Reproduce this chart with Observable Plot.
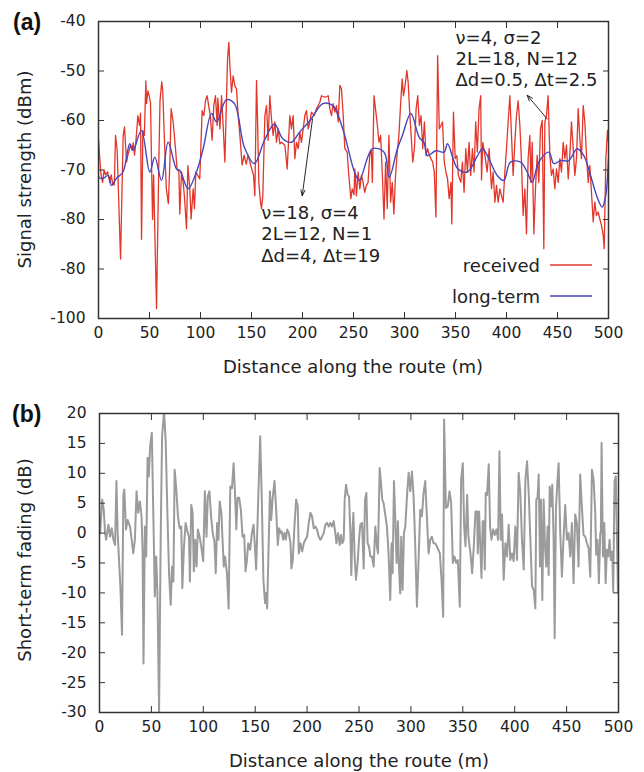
<!DOCTYPE html>
<html><head><meta charset="utf-8">
<script src="https://cdn.jsdelivr.net/npm/d3@7"></script>
<script src="https://cdn.jsdelivr.net/npm/@observablehq/plot@0.6"></script>
<style>
body{margin:0;background:#fff;font-family:"DejaVu Sans",sans-serif;}
#root{width:644px;height:772px;}
svg{display:block}
</style></head><body><div id="root"></div>
<script>
// ---------- data ----------
const receivedX = [0,1,2.5,4,5.5,7,9,11,12.5,14,15.5,16.7,18.3,21.6,24.2,25.5,27.5,28.8,31.4,33,34,35.3,36.6,38.6,40.2,41.2,42.2,43.5,45,46.4,47.1,48.4,49.7,51,52.3,53,54,55.5,56.9,59,60.3,62,63,64.7,66.5,68.5,70,71.2,73.2,75.5,77,78.8,79.7,81.4,83,84.3,86.3,87.6,89.5,90.8,92.8,94.1,95.4,97.4,99.3,101.6,103.3,104.9,106.5,108,109.6,111.4,113,114.7,116.3,117,119,120.6,122.2,123.9,126.5,127.8,128.8,130.4,132,133.7,135.3,136.9,138.6,140.8,142.8,144.8,146.7,149.3,152,153.3,154.9,155.9,157.2,158.8,159.8,161.1,163.1,164.7,166.3,168,169.6,171.2,172.9,174.5,176.1,177.8,179.4,182.7,185,186.6,187.6,189.2,190.8,192.5,194.1,195.8,197.4,199,202.3,203.9,205.6,207.2,208.8,211.4,213.7,217,218.6,221.9,225.2,226.8,228.4,230.1,231.7,233.3,235,236.6,238.2,239.9,241.5,243.8,245.4,247.4,248.7,250.5,251.3,252.9,254.5,256.2,257.8,259.4,261,262.7,264.3,265.9,267.5,268.5,270.1,271.8,273.4,275,276.6,278.3,279.9,281.5,283.1,284.7,286.4,288,289.6,291.2,292.9,294.5,296.1,297.7,299,300.6,302.3,303.6,304.9,306.5,308.1,309.7,311.4,313,314.6,316.2,317.9,319.5,321.1,322.7,324.4,327.6,329.2,330.8,332.5,334.1,335.7,337.3,339,340.6,342.2,343.8,345.5,346.4,348,349.7,351.3,352.9,355.2,356.8,358.4,360.1,361.7,363.3,364.9,366.6,368.2,369.8,371.4,373.1,374.7,375.5,376.8,378.8,381,383,385.3,386.9,388.6,390.2,391.8,393.5,395.1,396.7,398.4,400,401.6,403.3,404.9,406.5,408.2,409.8,411.4,413.1,414.7,416.3,418,419.6,421.2,422.9,423.9,425.2,426.8,428.4,430.1,431.7,433.3,435,436.6,437.6,439.2,440.8,442.5,444.1,445.8,447.4,449,450.7,452.3,453.9,455.6,457.2,458.8,460.5,462.1,463.7,465.4,467,468.6,470.3,471.9,473.5,475.2,476.8,478.4,480.1,481.7,483.3,485,486.6,488.2,489.9,491.5,493.1,494.8,495.8,497.4,499,500];
const receivedDbm = [-64,-67,-71,-72.5,-70,-71,-70.4,-72.5,-71,-73,-73,-63,-66,-88,-63,-61.3,-68.4,-67,-65,-66,-64.5,-67,-64.4,-59,-61,-58.5,-84,-62,-63,-52,-56.6,-54,-55,-56.5,-72,-80,-71,-85,-98,-70,-56,-52.2,-54,-64.4,-73.8,-76.8,-68.4,-57.6,-60.3,-65.7,-69.8,-70.4,-78.9,-70.4,-72.5,-75.5,-81.9,-69.1,-73.8,-79.9,-73.8,-77.8,-70.4,-71.1,-71.8,-58,-59,-56,-55,-57,-59,-64,-57,-55,-61,-55.5,-61.7,-55,-61,-68.4,-47.5,-44.2,-48.9,-54.3,-51,-53,-53.6,-59,-63,-69,-67,-68.8,-67,-69.1,-71.1,-75.2,-51.9,-59.7,-72.5,-76.5,-77.8,-75.2,-59,-57,-64,-55,-59.7,-63,-60.3,-64.4,-61.7,-64.7,-64.4,-65,-69.8,-63,-59,-61.7,-59,-67.7,-64.4,-65.7,-62.4,-64.4,-59,-58,-61.7,-60.3,-58.3,-59,-57.6,-56.3,-55,-55.3,-55,-57.6,-59,-56.6,-58.3,-57,-60.3,-52.9,-53.6,-59,-65.7,-66.4,-71.1,-75.8,-73.8,-75,-69.8,-75.2,-70.4,-73.8,-71.1,-72.5,-74.5,-73.1,-72.5,-67.1,-66,-72.5,-55,-58,-61,-64.4,-63,-71.1,-79.9,-68.4,-77.8,-63,-76.5,-72.5,-78.9,-71.1,-66.4,-63,-57,-51.6,-55,-52.9,-49.9,-52.3,-57.6,-63,-68.4,-65.7,-57.6,-55,-61,-59,-65.7,-60.3,-67.1,-65.7,-67.1,-68.4,-70.4,-79.5,-46.9,-61.7,-61,-60.3,-68.4,-70.4,-71.8,-75.8,-72.5,-80.9,-58.3,-67.7,-67.1,-71.1,-72.5,-68.4,-74.5,-65.7,-70.4,-64.4,-71.1,-65.7,-70.4,-60.3,-66.4,-57.6,-55,-72,-64.4,-67,-70.4,-65.7,-73.8,-70.4,-76.5,-73.1,-76.5,-73.8,-75.2,-76.5,-70.4,-65.7,-60.3,-55,-63,-71.1,-64.4,-59,-56,-61,-68.4,-79.2,-73.8,-82.9,-67.7,-63,-72.5,-64.4,-82.9,-73.8,-67,-72.5,-61.7,-60,-85.9,-60.3,-59,-55,-67,-71.1,-69.8,-73.8,-69.8,-72.5,-67.7,-70.4,-64.4,-67.7,-65,-71.8,-67,-60.3,-65.7,-71.1,-67.7,-57.6,-63.7,-67.7,-57,-60.3,-67,-72.5,-69.1,-74.5,-80.5,-76.5,-79.2,-78.5,-79.9,-81.2,-83.2,-85.9,-67.7,-62,-64.4];

const longTermX = [0,0.5,4.6,9.5,12.7,17.6,24,30.7,33.9,42,50.3,55.2,61.8,68.3,76.5,79.8,87.9,96,102.6,110.8,115.7,125.5,133.3,143,152.9,162.7,172.5,180.7,188.9,197,208.5,219.9,229.7,239.5,251,255.6,268.6,280,285,293,298,306.2,314.4,319,322.5,330.7,338.9,342.2,352,361.8,371.6,376.5,381,390.9,397.4,403.9,413.7,420.3,425.2,431.7,441.5,446.4,453,461,469.3,475.8,482.4,488.9,493.8,497,500];
const longTermDbm = [-64,-71.5,-71.7,-71.1,-73.1,-71.7,-70.4,-64.7,-66,-62,-70.4,-67.4,-72.1,-64.4,-69.8,-70.1,-73.8,-70.4,-65.7,-58.6,-60.3,-55.8,-56.6,-65.4,-68.7,-64,-60.7,-63.7,-64.4,-62.4,-59.7,-56.6,-57,-61.7,-70.4,-72.1,-65.7,-66.4,-71.5,-65.7,-63,-58.6,-63.4,-64.4,-67.1,-66.1,-66.4,-64.7,-69.7,-70.4,-67.1,-65.7,-67,-71.1,-72.1,-68.4,-68.4,-70.4,-72.5,-68.4,-66.4,-68.7,-68.1,-68.1,-65.7,-67.1,-71.1,-75.5,-77.5,-75.5,-67.7];

const fadingX = [0.6,2.6,4.1,5.4,6.4,8.6,10.2,11.8,13.4,15,16.3,17.5,20.1,21.7,23,23.9,25.5,27.1,29.4,31,32.5,34.1,35.7,37.3,38.9,40.5,41.5,42.4,43.7,45,46.3,47.5,48.8,50.4,51.7,53.3,54.6,55.8,57.4,59,60.3,62.2,63.8,65.4,67,68.6,69.9,71.2,72.4,74,75.6,77.2,78.8,79.8,81.4,83,84.6,86.2,87.1,88.4,89.7,90.9,92.2,93.5,94.8,96.4,98,99.9,101.5,103.1,104.3,105.9,107.5,109.1,110.7,112,113.3,114.6,115.8,117.4,118.7,119.7,120.9,122.8,124.4,126,127.6,129.2,130.8,131.8,133,134.6,136.2,137.8,139.4,140.7,142,143.3,145.2,146.8,148.4,149.7,150.9,152.8,154.8,156.3,157.9,159.5,160.5,161.5,164.2,165.4,166.7,168.6,170.2,171.8,173.1,174.4,175.6,176.9,178.2,179.5,180.8,182.4,184,184.9,186.2,187.8,189.4,191,192,193.6,195.2,196.8,198.4,200,201.6,203.2,204.8,206.4,208,209.6,211.2,212.8,214.4,216,217.6,219.2,220.8,222.4,224,225.6,227.2,228.2,229.8,231.4,232.7,234,235.3,236.2,237.5,239.1,240.4,241.7,242.6,243.6,244.6,245.8,247.1,248.7,250,251.3,252.9,254.5,255.8,257.1,258.3,259.6,260.9,262.5,264.1,265.7,267.3,268.3,269.9,271.2,272.4,273.7,275.3,276.9,278.5,280.1,281.4,282.4,283.7,285,286.2,287.5,288.5,289.7,290.7,292,293.3,294.6,296.2,297.8,299.4,301,302.6,304.2,305.8,307.4,309,310.6,312.2,313.8,315.4,317,318.6,320.2,321.8,323.4,325,327.9,329.5,331.1,332,333.7,335.6,337.2,338.8,340.4,342,343.6,345.2,347.1,348.4,350,351.3,352.6,354.2,355.4,357.4,359,360.6,362.2,363.8,364.4,365.7,367,368,369.2,370.2,371.2,372.1,373.4,375,376.3,377.6,379.2,380.8,382.4,384,385.3,386.6,387.8,389.4,391,392.6,394.2,395.8,397.4,399,400.6,402.2,403.8,405.4,407,408.7,410.3,411.9,413.5,415.1,416.7,418.3,419.9,420.8,422,423.1,424.4,425.3,426.6,427.9,429.2,430.4,431.7,432.7,433.7,435,436.2,437.5,438.5,439.7,441,442.3,443.9,445.5,447.1,448.7,450.3,451.9,453.5,455.1,456.7,458.3,459.9,461.5,463.1,464.7,466.3,468,469.6,471.2,472.8,474.4,476,477.6,478.5,479.8,481.1,482.4,483,483.7,485,486.3,487.6,488.8,490.1,491.4,492.6,493.9,494.9,496.2,497.4,498.5,499.5,500];
const fadingDb = [0,5.6,3.9,0,-1.1,1.4,-0.6,0.8,-1.1,-2,8.7,0,-8.9,-17,6.4,7.3,0.6,2.2,1.1,-1.1,-3.4,-1.1,7,3.4,5.3,2.8,-2.8,-21.8,1.1,-3.9,12.6,9.5,14.5,16.8,4.5,-10.6,-3.9,-10,-29.9,0,16.2,20.5,15.1,3.4,-6.7,-12,-5.6,-8.1,10.6,7.3,2.8,0.8,1.1,-9.2,-2.2,1.7,0.3,-0.6,-8.1,4.7,3.4,-6.4,-1.1,-5.6,0.6,-0.6,-2.2,-4.7,7,-0.6,6.1,7,2.8,0,-1.4,-6.7,1.7,-1.1,5.3,3.4,-1.7,-5.6,-3.9,-6.7,-12.6,7.8,7.5,11.7,5.6,0.6,5.9,5.9,3.9,-0.6,-0.3,-6.4,-4.5,-1.7,-2.8,0,1.4,-2.2,-6.1,5,16.2,6.1,-7.8,-11.7,-10,-12.6,7,2.2,5.6,8.7,3.9,-2,0.8,0,0.3,-1.1,0,-1.1,0.6,0,-1.7,-5.9,-4.5,1.1,5.6,4.5,-3.4,-1.7,-3.1,-1.7,-1.1,-0.6,1.7,3.4,2.8,0.8,1.1,0.6,-0.6,-1.1,-0.6,0,1.4,1.7,1.1,1.7,1.1,2,0,-1.7,0,-2,-0.3,-1.7,-1.1,5.6,8.1,6.4,6.1,0,-7,0,3.4,-3.9,-7.8,-5,-1.1,1.4,1.7,-5.9,5.6,6.7,-1.7,-2.2,-3.9,-3.9,-5.6,1.1,-2.2,-3.4,10.9,8.4,5.6,5,3.1,1.1,-3.4,-11.2,-1.7,-6.7,8.7,2.2,-5,2,-5.6,-10.1,-0.6,-9.5,0,1.1,6.1,10.1,7,10.3,6.1,-2.2,-12.3,-4.5,3.9,2.8,6.7,8.7,2.8,-3.4,-1.1,-0.6,-1.7,-1.7,-2.2,-3.4,-7.8,-14,19,4.2,4.5,7,5,-5,-3.9,-5,-4.5,-12.3,8.9,11.7,1.1,-2.2,6.4,-0.6,-3.4,-6.7,-2.2,3.6,3.6,-3.4,3.6,-2.8,-7.5,2,2,-6.1,6.7,6.4,11.5,1.1,-1.1,0.6,-0.3,0.6,-1.1,13.7,-1.1,3.1,-7.8,-1.7,-3.9,1.4,-4.5,-3.4,-4.7,1.1,-4.5,10.1,6.7,-1.1,-6.1,8.9,12,6.7,-1.1,-8.9,-9.5,-12.6,5.6,5.9,9.8,-5.6,5.6,-11.2,5.6,-2.2,-5.6,1.1,-7,7.8,4.5,8.1,-1.1,-17.6,3.9,8.1,11.7,0,-7.3,-0.6,4.7,-1.1,0,-3.9,1.7,-8.4,3.1,1.7,-5.6,9.8,4.5,-0.3,-0.6,-1.7,-2.5,-7.3,10.6,8.9,3.4,-3.6,-1.1,-8.4,0,0,15.1,-3.9,1.7,-8.4,-2.8,-3.9,-1.1,-4.5,-3.1,-9.8,8.7,9.5,-1,-10,-10];

const xTicks = [0,50,100,150,200,250,300,350,400,450,500];
const yTicksTop = [-100,-90,-80,-70,-60,-50,-40];
const yTickLabelsTop = ["-100","-80","-80","-70","-60","-50","-40"];
const yTicksBottom = [-30,-25,-20,-15,-10,-5,0,5,10,15,20];

const annotText = ["ν=18, σ=4\n2L=12, N=1\nΔd=4, Δt=19", "ν=4, σ=2\n2L=18, N=12\nΔd=0.5, Δt=2.5"];
const annotX = [159.5, 350];
const annotY = [-76.9, -41.5];
const arrowX1 = [209.8, 439.9], arrowY1 = [-59.7, -59.7];
const arrowX2 = [199.7, 420.3], arrowY2 = [-75.2, -54.9];
const seriesNames = ["received", "long-term"];

// ---------- styling ----------
const RED = "#e2362a", BLUE = "#4646bd", GRAY = "#9b9b9b", FRAME = "#333";
const FONT = "DejaVu Sans";
const TICK_FS = 15.5, TITLE_FS = 18;

const recData = receivedX.map((x, i) => ({x, y: receivedDbm[i]}));
const ltData = longTermX.map((x, i) => ({x, y: longTermDbm[i]}));
const fadeData = fadingX.map((x, i) => ({x, y: fadingDb[i]}));
const annots = annotText.map((t, i) => ({t, x: annotX[i], y: annotY[i]}));
const arrows = arrowX1.map((x1, i) => ({x1, y1: arrowY1[i], x2: arrowX2[i], y2: arrowY2[i]}));

function axes(yTicks, yFmt) {
  return [
    Plot.axisX({anchor: "bottom", ticks: xTicks, tickSize: -6, tickPadding: 14, label: null, stroke: FRAME, fontSize: TICK_FS, fill: "#222"}),
    Plot.axisX({anchor: "top", ticks: xTicks, tickSize: -6, tickFormat: () => "", label: null, stroke: FRAME}),
    Plot.axisY({anchor: "left", ticks: yTicks, tickSize: -6, tickPadding: 19, tickFormat: yFmt, label: null, stroke: FRAME, fontSize: TICK_FS, fill: "#222"}),
    Plot.axisY({anchor: "right", ticks: yTicks, tickSize: -6, tickFormat: () => "", label: null, stroke: FRAME}),
    Plot.frame({stroke: FRAME, strokeWidth: 1.5})
  ];
}

const topChart = Plot.plot({
  width: 644, height: 390,
  marginLeft: 98, marginRight: 36, marginTop: 21, marginBottom: 72,
  style: {fontFamily: FONT, fontSize: "15.5px", color: "#222", background: "#fff"},
  x: {domain: [0, 500]},
  y: {domain: [-100, -40]},
  marks: [
    Plot.line(recData, {x: "x", y: "y", stroke: RED, strokeWidth: 1.3, clip: true}),
    Plot.line(ltData, {x: "x", y: "y", stroke: BLUE, strokeWidth: 1.4, curve: "catmull-rom", clip: true}),
    Plot.arrow(arrows, {x1: "x1", y1: "y1", x2: "x2", y2: "y2", stroke: "#111", strokeWidth: 0.9, headLength: 10, headAngle: 40}),
    Plot.text(annots, {x: "x", y: "y", text: "t", textAnchor: "start", lineAnchor: "top", fontSize: TITLE_FS, lineHeight: 1.18, fill: "#222"}),
    ...axes(yTicksTop, (d) => yTickLabelsTop[yTicksTop.indexOf(d)])
  ]
});

const bottomChart = Plot.plot({
  width: 644, height: 382,
  marginLeft: 99, marginRight: 26, marginTop: 23, marginBottom: 60,
  style: {fontFamily: FONT, fontSize: "15.5px", color: "#222", background: "#fff"},
  x: {domain: [0, 500]},
  y: {domain: [-30, 20]},
  marks: [
    Plot.line(fadeData, {x: "x", y: "y", stroke: GRAY, strokeWidth: 2, clip: true}),
    ...axes(yTicksBottom, (d) => String(d))
  ]
});

const root = document.getElementById("root");
root.appendChild(topChart);
root.appendChild(bottomChart);

function addText(svg, txt, x, y, opts = {}) {
  const t = d3.select(svg).append("text")
    .attr("x", x).attr("y", y)
    .attr("font-family", opts.family || FONT)
    .attr("font-size", opts.size || TITLE_FS)
    .attr("font-weight", opts.weight || "normal")
    .attr("fill", opts.fill || "#222")
    .attr("text-anchor", opts.anchor || "middle")
    .text(txt);
  if (opts.rotate) t.attr("transform", `rotate(-90,${x},${y})`);
  if (opts.central) t.attr("dominant-baseline", "central");
  return t;
}

// top panel titles
addText(topChart, "Signal strength (dBm)", 24, 169.5, {rotate: true, central: true});
addText(topChart, "Distance along the route (m)", 353, 366, {central: true});
addText(topChart, "(a)", 13, 30, {family: "Liberation Sans", size: 23, weight: "bold", anchor: "start", fill: "#111"});
// legend
const legY = [265, 296];
const legColor = [RED, BLUE];
seriesNames.forEach((name, i) => {
  addText(topChart, name, 540, legY[i], {anchor: "end", central: true});
  d3.select(topChart).append("line")
    .attr("x1", 550).attr("x2", 592).attr("y1", legY[i]).attr("y2", legY[i])
    .attr("stroke", legColor[i]).attr("stroke-width", 1.4);
});

// bottom panel titles
addText(bottomChart, "Short-term fading (dB)", 24, 170, {rotate: true, central: true});
addText(bottomChart, "Distance along the route (m)", 359, 370, {central: true});
addText(bottomChart, "(b)", 12, 32, {family: "Liberation Sans", size: 23, weight: "bold", anchor: "start", fill: "#111"});
</script>
</body></html>
